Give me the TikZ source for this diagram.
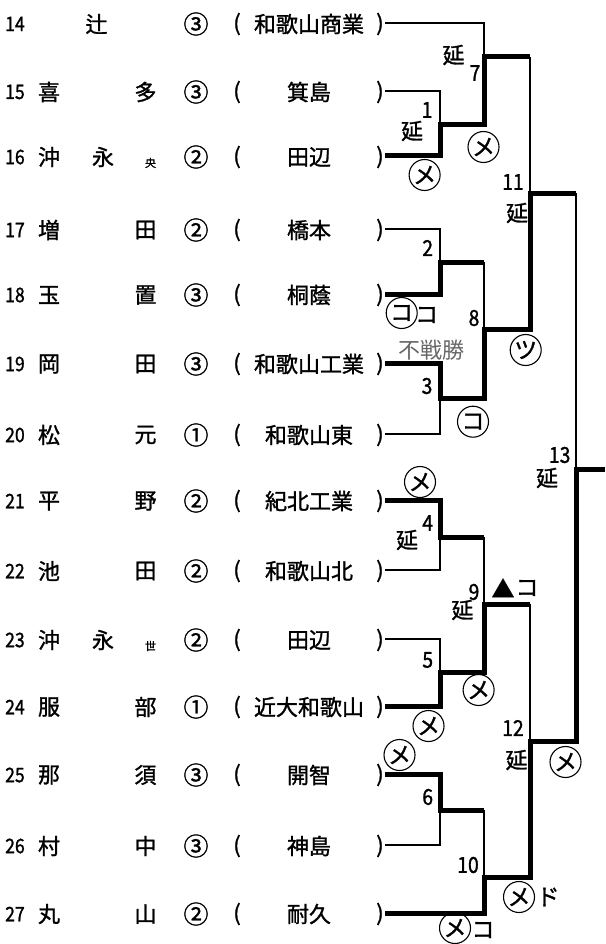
\documentclass[tikz,border=0pt]{standalone}
\usepackage{fontspec}
\setmainfont{Noto Sans CJK JP}[FakeBold=1.2]
\newfontfamily\digitfont{Noto Sans CJK JP}[FakeStretch=0.88,FakeBold=1.2]
\newfontfamily\greyfont{Noto Sans CJK JP}
\begin{document}
\begin{tikzpicture}[x=1pt,y=-1pt,
  txt/.style={inner sep=0pt, font=\fontsize{22}{22}\selectfont},
  cnum/.style={inner sep=0pt, font=\fontsize{25}{25}\selectfont},
  small/.style={inner sep=0pt, font=\fontsize{11}{11}\selectfont},
  rnum/.style={inner sep=0pt, anchor=west, font=\digitfont\fontsize{20}{20}\selectfont},
  lnum/.style={inner sep=0pt, font=\digitfont\fontsize{22}{22}\selectfont},
  lbl/.style={inner sep=0pt, font=\fontsize{22}{22}\selectfont},
  kana/.style={inner sep=0pt, font=\fontsize{23}{23}\selectfont},
  res/.style={draw, circle, line width=1.1pt, minimum size=31pt, inner sep=0pt, font=\fontsize{23}{23}\selectfont},
  thinline/.style={line width=2pt, line join=miter},
  thickline/.style={line width=5pt, line join=miter}]
\useasboundingbox (0,0) rectangle (605,944);

% ---------- entries ----------
\node[rnum] (n14) at (5,24) {14};
\node[txt] (a14) at (96.5,24) {辻};
\node[cnum] (g14) at (196,24) {③};
\node[txt] (lp14) at (237,24) {(};
\node[txt] (s14) at (309,24) {和歌山商業};
\node[txt] (rp14) at (380,24) {)};

\node[rnum] (n16) at (5,157) {16};
\node[txt] (a16) at (49,157) {沖};
\node[txt] (b16) at (103,157) {永};
\node[small] (c16) at (150.5,163) {央};
\node[cnum] (g16) at (196,157) {②};
\node[txt] (lp16) at (237,157) {(};
\node[txt] (s16) at (309,157) {田辺};
\node[txt] (rp16) at (380,157) {)};

\node[rnum] (n23) at (5,640) {23};
\node[txt] (a23) at (49,640) {沖};
\node[txt] (b23) at (103,640) {永};
\node[small] (c23) at (150.5,646) {世};
\node[cnum] (g23) at (196,640) {②};
\node[txt] (lp23) at (237,640) {(};
\node[txt] (s23) at (309,640) {田辺};
\node[txt] (rp23) at (380,640) {)};

\foreach \y/\n/\fa/\fb/\g/\sc in {
  92/15/喜/多/③/箕島,
  230/17/増/田/②/橋本,
  295/18/玉/置/③/桐蔭,
  364/19/岡/田/③/和歌山工業,
  435/20/松/元/①/和歌山東,
  501/21/平/野/②/紀北工業,
  571/22/池/田/②/和歌山北,
  707/24/服/部/①/近大和歌山,
  775/25/那/須/③/開智,
  846/26/村/中/③/神島,
  914/27/丸/山/②/耐久}{
  \node[rnum] (n\n) at (5,\y) {\n};
  \node[txt] (a\n) at (49,\y) {\fa};
  \node[txt] (b\n) at (145.5,\y) {\fb};
  \node[cnum] (g\n) at (196,\y) {\g};
  \node[txt] (lp\n) at (237,\y) {(};
  \node[txt] (s\n) at (309,\y) {\sc};
  \node[txt] (rp\n) at (380,\y) {)};
}

% ---------- bracket coordinates ----------
\coordinate (R14) at (385,23);
\coordinate (R15) at (385,91);
\coordinate (R16) at (385,156);
\coordinate (R17) at (385,229);
\coordinate (R18) at (385,294);
\coordinate (R19) at (385,363);
\coordinate (R20) at (385,434);
\coordinate (R21) at (385,500);
\coordinate (R22) at (385,570);
\coordinate (R23) at (385,639);
\coordinate (R24) at (385,706);
\coordinate (R25) at (385,774);
\coordinate (R26) at (385,845);
\coordinate (R27) at (385,913);

\coordinate (J1) at (440,125);  \coordinate (M1) at (484,125);
\coordinate (J2) at (440,262);  \coordinate (M2) at (484,262);
\coordinate (J3) at (440,398);  \coordinate (M3) at (484,398);
\coordinate (J4) at (440,537);  \coordinate (M4) at (484,537);
\coordinate (J5) at (440,672);  \coordinate (M5) at (484,672);
\coordinate (J6) at (440,810);  \coordinate (M6) at (484,810);
\coordinate (J7) at (484,57);   \coordinate (M7) at (530,57);
\coordinate (J8) at (484,329);  \coordinate (M8) at (530,329);
\coordinate (J9) at (484,604);  \coordinate (M9) at (530,604);
\coordinate (J10) at (484,877); \coordinate (M10) at (530,877);
\coordinate (J11) at (530,193); \coordinate (M11) at (576,193);
\coordinate (J12) at (530,741); \coordinate (M12) at (576,741);
\coordinate (J13) at (576,469); \coordinate (E) at (605,469);

% ---------- thin bracket ----------
\draw[thinline] (R15) -| (J1) |- (R16);  \draw[thinline] (J1) -- (M1);
\draw[thinline] (R17) -| (J2) |- (R18);  \draw[thinline] (J2) -- (M2);
\draw[thinline] (R19) -| (J3) |- (R20);  \draw[thinline] (J3) -- (M3);
\draw[thinline] (R21) -| (J4) |- (R22);  \draw[thinline] (J4) -- (M4);
\draw[thinline] (R23) -| (J5) |- (R24);  \draw[thinline] (J5) -- (M5);
\draw[thinline] (R25) -| (J6) |- (R26);  \draw[thinline] (J6) -- (M6);
\draw[thinline] (R14) -| (J7) -- (M1);   \draw[thinline] (J7) -- (M7);
\draw[thinline] (M2) -- (J8) -- (M3);    \draw[thinline] (J8) -- (M8);
\draw[thinline] (M4) -- (J9) -- (M5);    \draw[thinline] (J9) -- (M9);
\draw[thinline] (M6) -- (J10);  \draw[thinline] (R27) -| (J10);  \draw[thinline] (J10) -- (M10);
\draw[thinline] (M7) -- (J11) -- (M8);   \draw[thinline] (J11) -- (M11);
\draw[thinline] (M9) -- (J12) -- (M10);  \draw[thinline] (J12) -- (M12);
\draw[thinline] (M11) -- (J13) -- (M12); \draw[thinline] (J13) -- (E);

% ---------- winners (thick) ----------
\draw[thickline] (R16) -| (J1) -- (M1) -- (J7) -- (M7);
\draw[thickline] (R18) -| (J2) -- (M2);
\draw[thickline] (R19) -| (J3) -- (M3) -- (J8) -- (M8) -- (J11) -- (M11);
\draw[thickline] (R21) -| (J4) -- (M4);
\draw[thickline] (R24) -| (J5) -- (M5) -- (J9) -- (M9);
\draw[thickline] (R25) -| (J6) -- (M6);
\draw[thickline] (R27) -| (J10) -- (M10) -- (J12) -- (M12) -- (J13) -- (E);

% ---------- match labels ----------
\node[lbl] (e7) at (453.5,55) {延};
\node[lnum] (l7) at (475,73) {7};
\node[lnum] (l1) at (427,110) {1};
\node[lbl] (e1) at (412,131) {延};
\node[res] (c7) at (483.5,147) {メ};
\node[res] (c1) at (424.6,175) {メ};
\node[lnum] (l11) at (513,182) {11};
\node[lbl] (e11) at (517,213) {延};
\node[lnum] (l2) at (427.7,248) {2};
\node[res] (c2) at (401.7,313) {コ};
\node[kana] (k2) at (426.7,315) {コ};
\node[lnum] (l8) at (474,318) {8};
\node[inner sep=0pt, font=\greyfont\fontsize{22}{22}\selectfont, text=black!60] (fs) at (431.7,350) {不戦勝};
\node[res] (c8) at (525.7,350) {ツ};
\node[lnum] (l3) at (427,386) {3};
\node[res] (c3) at (473,421.7) {コ};
\node[lnum] (l13) at (559.7,455) {13};
\node[lbl] (e13) at (547,478) {延};
\node[res] (c4) at (420,482) {メ};
\node[lbl] (e4) at (407,540) {延};
\node[lnum] (l4) at (427.7,523) {4};
\node[lnum] (l9) at (474,592) {9};
\node[lbl] (e9) at (462.4,610) {延};
\node[kana] (t9) at (503,588) {▲};
\node[kana] (k9) at (527,588) {コ};
\node[lnum] (l5) at (427.7,660) {5};
\node[res] (c9) at (478.6,690) {メ};
\node[res] (c5) at (428.5,726) {メ};
\node[res] (c6) at (399.5,755) {メ};
\node[lnum] (l12) at (513,728) {12};
\node[lbl] (e12) at (516.5,760) {延};
\node[res] (c13) at (565.5,762) {メ};
\node[lnum] (l6) at (427.7,797) {6};
\node[lnum] (l10) at (468,865) {10};
\node[res] (c12) at (519,897) {メ};
\node[kana] (d12) at (548,897) {ド};
\node[res] (c10) at (455,928) {メ};
\node[kana] (k10) at (483,930) {コ};
\end{tikzpicture}
\end{document}
